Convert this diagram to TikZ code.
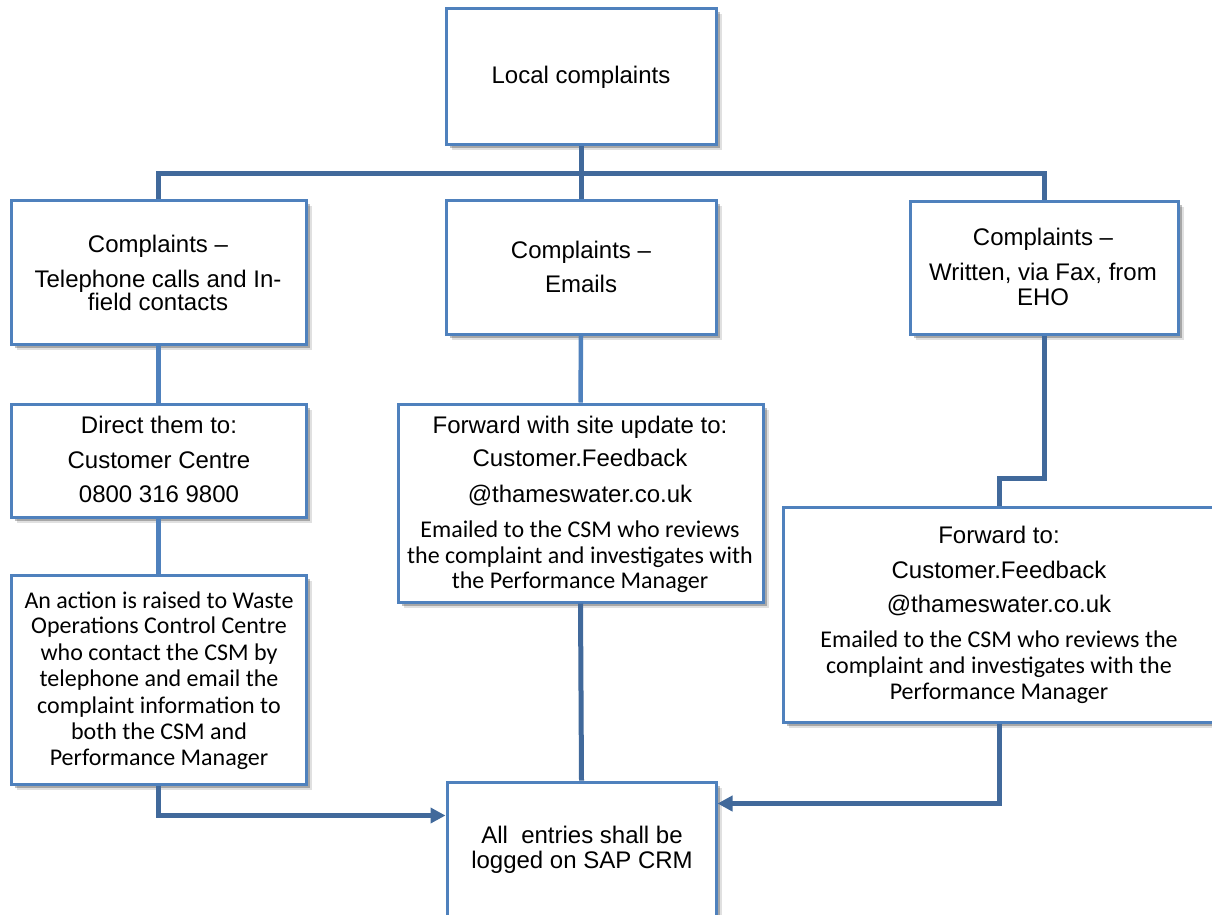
\documentclass[tikz,border=0pt]{standalone}
\usepackage{fontspec}
\setmainfont{Liberation Sans}
\newfontfamily\calib{Carlito}
\usetikzlibrary{arrows.meta,shadows}
\definecolor{boxblue}{HTML}{4F81BD}
\definecolor{linkblue}{HTML}{41699B}
\begin{document}
\begin{tikzpicture}[x=1pt,y=-1pt,
  box/.style={draw=boxblue, line width=3pt, fill=white, rectangle, inner sep=0pt,
    drop shadow={shadow xshift=6pt, shadow yshift=-6pt, opacity=0.12, fill=black},
    drop shadow={shadow xshift=3.5pt, shadow yshift=-3.5pt, opacity=0.25, fill=black}},
  tl/.style={anchor=base, inner sep=0pt, font=\fontsize{24}{26}\selectfont},
  tc/.style={anchor=base, inner sep=0pt, font=\calib\fontsize{24}{26}\selectfont},
  link/.style={draw=linkblue, line width=5pt},
  colink/.style={draw=boxblue, line width=4.5pt},
  arr/.style={link, -{Triangle[length=15pt,width=15pt]}}]
\clip (0,0) rectangle (1212,914);
\fill[white] (0,0) rectangle (1212,914);

% boxes
\node[box, minimum width=270pt, minimum height=136pt] (top) at (581,76) {};
\node[box, minimum width=295pt, minimum height=144pt] (b1) at (158.5,272) {};
\node[box, minimum width=270pt, minimum height=134pt] (b2) at (581,267) {};
\node[box, minimum width=268pt, minimum height=133pt] (b3) at (1044,267.5) {};
\node[box, minimum width=295pt, minimum height=113pt] (d1) at (158.5,460.5) {};
\node[box, minimum width=365pt, minimum height=198pt] (d2) at (580.5,503) {};
\node[box, minimum width=295pt, minimum height=209pt] (e1) at (158.5,679.5) {};
\node[box, minimum width=433pt, minimum height=215pt] (e3) at (999.5,614.5) {};
\node[box, minimum width=269pt, minimum height=158pt] (f) at (581.5,861) {};

% connectors
\coordinate (bar) at (581,173);
\draw[link] (top.south) -- (b2.north);
\draw[link] (b1.north) |- (bar) -| (b3.north);
\draw[colink] (b1.south) -- (d1.north);
\draw[colink] (d1.south) -- (e1.north);
\draw[colink] (b2.south) -- (d2.north);
\draw[link] (d2.south) -- (f.north);
\draw[link] (b3.south) -- ++(0,143) -| (e3.north);
\draw[arr] (e1.south) |- ([yshift=-35pt]f.north west);
\draw[arr] (e3.south) |- ([yshift=-23pt]f.north east);

% texts
\node[tl] (ta) at (581,83) {Local complaints};

\node[tl] (tb1a) at (158,252) {Complaints –};
\node[tl] (tb1b) at (158,287) {Telephone calls and In-};
\node[tl] (tb1c) at (158,310) {field contacts};

\node[tl] (tb2a) at (581,258) {Complaints –};
\node[tl] (tb2b) at (581,292) {Emails};

\node[tl] (tb3a) at (1043,245) {Complaints –};
\node[tl] (tb3b) at (1043,280) {Written, via Fax, from};
\node[tl] (tb3c) at (1043,305) {EHO};

\node[tl] (td1a) at (159,433) {Direct them to:};
\node[tl] (td1b) at (159,468) {Customer Centre};
\node[tl] (td1c) at (159,502) {0800 316 9800};

\node[tl] (td2a) at (580,433) {Forward with site update to:};
\node[tl] (td2b) at (580,466) {Customer.Feedback};
\node[tl] (td2c) at (580,502) {@thameswater.co.uk};
\node[tc] (td2d) at (580,537) {Emailed to the CSM who reviews};
\node[tc] (td2e) at (580,563) {the complaint and investigates with};
\node[tc] (td2f) at (580,588) {the Performance Manager};

\node[tc] (te1a) at (159,608) {An action is raised to Waste};
\node[tc] (te1b) at (159,633) {Operations Control Centre};
\node[tc] (te1c) at (159,660) {who contact the CSM by};
\node[tc] (te1d) at (159,686) {telephone and email the};
\node[tc] (te1e) at (159,713) {complaint information to};
\node[tc] (te1f) at (159,739) {both the CSM and};
\node[tc] (te1g) at (159,765) {Performance Manager};

\node[tl] (te3a) at (999,543) {Forward to:};
\node[tl] (te3b) at (999,578) {Customer.Feedback};
\node[tl] (te3c) at (999,612) {@thameswater.co.uk};
\node[tc] (te3d) at (999,647) {Emailed to the CSM who reviews the};
\node[tc] (te3e) at (999,673) {complaint and investigates with the};
\node[tc] (te3f) at (999,699) {Performance Manager};

\node[tl] (tfa) at (582,843) {All\ \ entries shall be};
\node[tl] (tfb) at (582,868) {logged on SAP CRM};
\end{tikzpicture}
\end{document}
